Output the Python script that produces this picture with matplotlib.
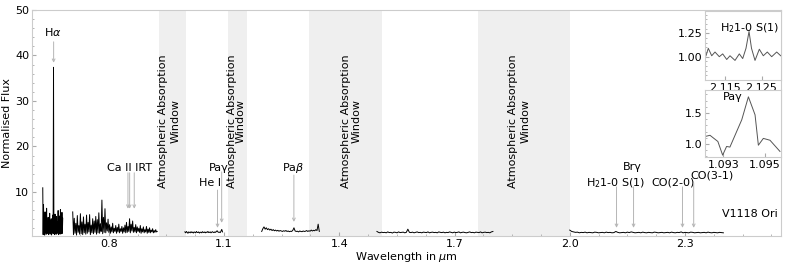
import numpy as np
import matplotlib
matplotlib.use("Agg")
import matplotlib.pyplot as plt
from matplotlib.ticker import AutoMinorLocator

# spectrum segments (start, end wavelength in micron) and flux
seg_a = (0.628, 0.680)
flux_a = [10.9, 0.6, 7.2, 0.9, 4.8, 0.5, 5.6, 1.2, 3.9, 0.7, 6.4, 0.8, 3.1, 1.0,
          4.4, 0.6, 2.8, 1.1, 5.3, 0.7, 3.6, 0.9, 4.1, 0.6, 3.3, 1.2, 4.9, 0.8,
          37.4, 0.9, 3.8, 0.6, 5.1, 1.0, 2.9, 0.7, 4.6, 0.8, 3.5, 1.1, 5.9, 0.6,
          3.2, 0.9, 4.7, 0.7, 6.1, 1.0, 3.4, 0.8, 5.5, 0.9, 4.2]

seg_b = (0.706, 0.926)
flux_b = [5.6, 0.6, 4.2, 0.9, 3.1, 0.5, 4.8, 1.1, 2.6, 0.7, 5.2, 0.8, 3.4, 0.6, 4.5, 1.0, 2.9,
          0.7, 4.9, 0.9, 3.3, 1.2, 5.0, 0.6, 2.7, 1.0, 4.1, 0.8, 3.6, 1.1, 4.6, 0.7,
          3.9, 1.0, 5.4, 0.9, 3.0, 1.3, 8.2, 0.8, 4.4, 1.1, 6.3, 1.0, 3.2, 1.4, 4.0,
          1.1, 2.8, 0.9, 2.3, 1.2, 3.1, 1.0, 2.0, 1.3, 2.6, 0.9, 2.2, 1.2, 2.9, 1.0, 1.9, 1.3, 2.4, 0.9, 2.1,
          1.2, 2.7, 1.0, 3.3, 1.1, 2.4, 1.3, 4.1, 1.0, 2.9, 1.4, 3.6, 1.1, 2.2, 1.2, 2.8, 1.0, 2.3, 1.3, 2.0,
          1.1, 2.6, 0.9, 1.9, 1.2, 2.3, 1.0, 1.7, 1.2, 2.4, 0.9, 1.8, 1.1, 2.1, 1.0, 1.6, 1.2, 1.9, 1.0, 1.5,
          1.1, 1.7, 1.2, 1.3]

seg_c = (0.998, 1.096)
flux_c = [1.2, 1.0, 1.3, 1.1, 0.9, 1.2, 1.1, 1.0, 1.25, 1.05, 1.15, 0.95, 1.2, 1.1, 1.0,
          1.3, 1.1, 1.05, 1.2, 0.95, 1.1, 1.15, 1.0, 1.25, 1.1, 1.05, 1.2, 1.0, 1.15, 1.1,
          1.3, 1.05, 1.1, 1.2, 1.0, 1.15, 1.25, 1.1, 1.05, 1.2, 1.1, 1.3, 1.45, 1.2, 1.1,
          1.15, 1.05, 1.35, 1.75, 1.2]

seg_d = (1.198, 1.348)
flux_d = [1.3, 1.9, 2.3, 1.8, 2.1, 1.7, 1.9, 1.6, 1.8, 1.5, 1.7, 1.45, 1.6, 1.4, 1.55,
          1.35, 1.5, 1.4, 1.3, 1.45, 1.35, 1.5, 1.3, 1.4, 1.25, 1.35, 1.3, 1.55, 2.1, 1.4,
          1.3, 1.35, 1.2, 1.4, 1.3, 1.25, 1.4, 1.3, 1.35, 1.5, 1.3, 1.45, 1.35, 1.6, 1.4,
          1.55, 1.45, 1.7, 1.5, 2.9, 1.3]

seg_e = (1.498, 1.800)
flux_e = [1.3, 1.1, 1.0, 1.15, 1.05, 1.1, 1.0, 1.2, 1.05, 1.1,
          0.95, 1.15, 1.1, 1.0, 1.2, 1.05, 1.1, 1.15, 1.0, 1.1,
          1.8, 1.1, 1.05, 1.15, 1.0, 1.1, 1.2, 1.05, 1.1, 1.0,
          1.15, 1.1, 1.05, 1.2, 1.0, 1.1, 1.15, 1.05, 1.1, 1.0,
          1.2, 1.1, 1.05, 1.15, 1.0, 1.1, 1.05, 1.2, 1.1, 1.0,
          1.15, 1.05, 1.1, 1.2, 1.0, 1.1, 1.15, 1.05, 1.0, 1.1,
          1.2, 1.05, 1.1, 1.0, 1.15, 1.1, 1.05, 1.2, 1.0, 1.1,
          1.15, 1.05, 1.1, 1.0, 1.2, 1.3]

seg_f = (2.000, 2.400)
flux_f = [1.6, 1.3, 1.2, 1.1, 1.15, 1.0, 1.1, 1.05, 1.15, 1.0,
          1.1, 1.05, 1.0, 1.15, 1.1, 1.0, 1.05, 1.1, 1.0, 1.15,
          1.05, 1.1, 1.0, 1.05, 1.3, 1.1, 1.0, 1.05, 1.1, 1.0,
          1.15, 1.05, 1.2, 1.1, 1.0, 1.05, 1.1, 1.0, 1.15, 1.05,
          1.0, 1.1, 1.05, 1.0, 1.15, 1.1, 1.0, 1.05, 1.1, 1.0,
          1.05, 1.1, 1.0, 1.15, 1.05, 1.0, 1.1, 1.05, 1.2, 1.0,
          1.1, 1.05, 1.0, 1.15, 1.1, 1.0, 1.05, 1.1, 1.0, 1.05,
          1.1, 1.0, 1.15, 1.05, 1.0, 1.1, 1.05, 1.0, 1.1, 1.05, 1.0]

segments = [(seg_a, flux_a), (seg_b, flux_b), (seg_c, flux_c),
            (seg_d, flux_d), (seg_e, flux_e), (seg_f, flux_f)]

# atmospheric absorption windows and where their labels sit
windows = [(0.93, 1.0), (1.11, 1.16), (1.32, 1.51), (1.76, 2.0)]
window_text_x = [0.957, 1.132, 1.4315, 1.869]
window_linespacing = [1.35, 0.8, 1.15, 1.35]

# line identifications: label, text position, arrow wavelengths, arrow start/end
line_labels = ['H$\\alpha$', 'Ca II IRT', 'He I', 'Pa\u03b3', 'Pa$\\beta$',
               'H$_2$1-0 S(1)', 'Br\u03b3', 'CO(2-0)', 'CO(3-1)']
label_x = [0.654, 0.855, 1.063, 1.086, 1.279, 2.120, 2.162, 2.269, 2.370]
label_y = [45.2, 15.3, 12.0, 15.3, 15.3, 12.0, 15.5, 12.0, 13.5]
arrow_wl = [[0.6563], [0.8498, 0.8542, 0.8662], [1.0830], [1.0938], [1.2818],
            [2.1218], [2.1661], [2.2935], [2.3227]]
arrow_top = [43.0, 14.2, 10.4, 14.4, 13.7, 11.1, 11.1, 11.1, 12.0]
arrow_tip = [38.4, 6.3, 2.1, 3.2, 3.4, 2.1, 2.1, 2.1, 2.1]

# insets
h2_wl = [2.10979, 2.11042, 2.11136, 2.11226, 2.11344, 2.11437, 2.11547, 2.11637,
         2.11774, 2.11892, 2.11985, 2.12075, 2.12158, 2.12226, 2.12322, 2.1244,
         2.12549, 2.12659, 2.12779, 2.12916, 2.13026]
h2_flux = [1.01, 1.09, 1.01, 1.05, 1.0, 1.03, 0.97, 1.01, 0.96, 1.03,
           0.98, 1.09, 1.27, 1.09, 0.96, 1.08, 1.01, 1.05, 1.0, 1.05, 1.01]
pag_wl = [1.09211, 1.09235, 1.09273, 1.09296, 1.09315, 1.09331, 1.09388, 1.0942,
          1.09452, 1.09468, 1.09492, 1.09524, 1.09572]
pag_flux = [1.12, 1.14, 1.04, 0.82, 0.96, 0.95, 1.39, 1.76, 1.47, 0.98, 1.09, 1.06, 0.88]

W, H = 789, 263
fig = plt.figure(figsize=(W / 100, H / 100), dpi=100)
ax = fig.add_axes([32 / W, 27 / H, 749 / W, 226 / H])

spine_col = '#cccccc'
tick_col = '#aaaaaa'
fs = 8

for (lo, hi) in windows:
    ax.axvspan(lo, hi, color='#efefef', lw=0, zorder=0)
for x, ls in zip(window_text_x, window_linespacing):
    ax.text(x, 25.6, 'Atmospheric Absorption\nWindow', rotation=90, ha='center',
            va='center', fontsize=fs, linespacing=ls, multialignment='center')

for (lo, hi), fl in segments:
    wl = np.linspace(lo, hi, len(fl))
    ax.plot(wl, fl, color='black', lw=0.7)

for lab, tx, ty, wls, top, tip in zip(line_labels, label_x, label_y, arrow_wl, arrow_top, arrow_tip):
    ax.text(tx, ty, lab, ha='center', va='center', fontsize=fs)
    for w in wls:
        ax.annotate('', xy=(w, tip), xytext=(w, top),
                    arrowprops=dict(arrowstyle='->', color='#b5b5b5', lw=0.7,
                                    mutation_scale=5, shrinkA=0, shrinkB=0))

ax.text(2.469, 5.2, 'V1118 Ori', ha='center', va='center', fontsize=fs)

ax.set_xlim(0.6, 2.55)
ax.set_ylim(0.3, 50)
ax.set_xticks([0.8, 1.1, 1.4, 1.7, 2.0, 2.3])
ax.set_yticks([10, 20, 30, 40, 50])
ax.xaxis.set_minor_locator(AutoMinorLocator(4))
ax.yaxis.set_minor_locator(AutoMinorLocator(5))
ax.set_xlabel('Wavelength in $\\mu$m', fontsize=fs, labelpad=1)
ax.set_ylabel('Normalised Flux', fontsize=fs, labelpad=2)


def style(a, size):
    for s in a.spines.values():
        s.set_color(spine_col)
    a.tick_params(which='both', direction='in', color=tick_col, labelsize=size, pad=2)
    a.tick_params(which='major', length=3)
    a.tick_params(which='minor', length=1.5)


style(ax, fs)

ax1 = fig.add_axes([705 / W, 1 - 80 / H, 76 / W, 69 / H])
ax1.plot(h2_wl, h2_flux, color='#555555', lw=0.7)
ax1.set_xlim(2.10952, 2.13034)
ax1.set_ylim(0.75, 1.49)
ax1.set_xticks([2.115, 2.125])
ax1.set_yticks([1.0, 1.25])
ax1.set_yticklabels(['1.00', '1.25'])
ax1.yaxis.set_minor_locator(AutoMinorLocator(5))
ax1.text(0.59, 0.75, 'H$_2$1-0 S(1)', transform=ax1.transAxes, ha='center',
         va='center', fontsize=fs)
style(ax1, fs)

ax2 = fig.add_axes([705 / W, 1 - 157 / H, 76 / W, 67 / H])
ax2.plot(pag_wl, pag_flux, color='#555555', lw=0.7)
ax2.set_xlim(1.09211, 1.09577)
ax2.set_ylim(0.79, 1.87)
ax2.set_xticks([1.093, 1.095])
ax2.set_yticks([1.0, 1.5])
ax2.yaxis.set_minor_locator(AutoMinorLocator(5))
ax2.text(0.36, 0.89, 'Pa\u03b3', transform=ax2.transAxes, ha='center',
         va='center', fontsize=fs)
style(ax2, fs)

fig.savefig('out.png', dpi=100)
